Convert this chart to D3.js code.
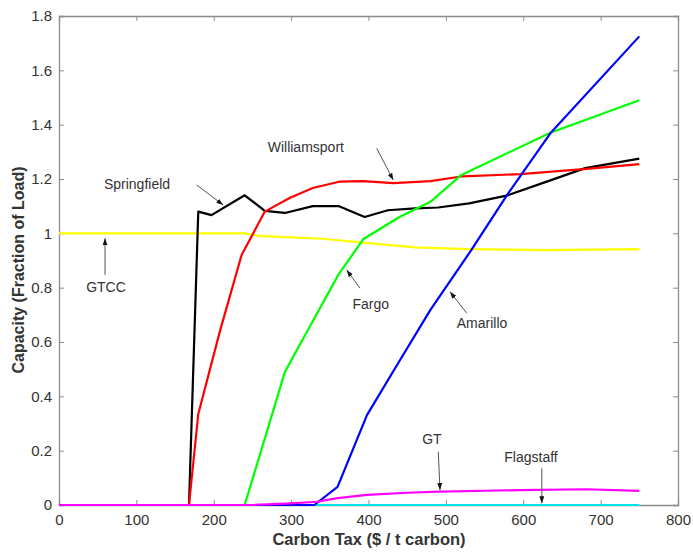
<!DOCTYPE html>
<html>
<head>
<meta charset="utf-8">
<script src="https://cdn.jsdelivr.net/npm/d3@7"></script>
<style>
  html, body { margin: 0; padding: 0; background: #fff; }
  svg { display: block; font-family: Arial, "Liberation Sans", sans-serif; }
</style>
</head>
<body>
<svg id="chart" width="693" height="552"></svg>
<script>
// ---- Data ----
const xTicks = [0, 100, 200, 300, 400, 500, 600, 700, 800];
const yTicks = [0, 0.2, 0.4, 0.6, 0.8, 1, 1.2, 1.4, 1.6, 1.8];

const flagstaffX = [0, 750];
const flagstaffY = [0, 0];

const gtccX = [0, 240, 260, 300, 340, 390, 460, 530, 630, 750];
const gtccY = [1, 1, 0.99, 0.985, 0.98, 0.967, 0.948, 0.942, 0.938, 0.942];

const springfieldX = [0, 168, 180, 197, 240, 266, 292, 328, 362, 395, 425, 460, 490, 530, 580, 635, 680, 750];
const springfieldY = [0, 0, 1.08, 1.067, 1.14, 1.083, 1.075, 1.1, 1.1, 1.06, 1.085, 1.092, 1.095, 1.11, 1.14, 1.195, 1.24, 1.275];

const williamsportX = [0, 168, 180, 208, 236, 250, 266, 298, 328, 362, 393, 432, 480, 522, 596, 682, 750];
const williamsportY = [0, 0, 0.335, 0.64, 0.92, 0.995, 1.08, 1.13, 1.167, 1.19, 1.192, 1.185, 1.192, 1.21, 1.218, 1.237, 1.255];

const fargoX = [0, 240, 292, 324, 361, 393, 440, 480, 520, 635, 750];
const fargoY = [0, 0, 0.49, 0.656, 0.847, 0.978, 1.06, 1.116, 1.215, 1.37, 1.49];

const amarilloX = [0, 330, 360, 398, 440, 480, 533, 579, 635, 750];
const amarilloY = [0, 0, 0.067, 0.331, 0.53, 0.718, 0.939, 1.141, 1.368, 1.725];

const gtX = [0, 250, 300, 333, 360, 398, 450, 492, 596, 682, 750];
const gtY = [0, 0, 0.006, 0.012, 0.025, 0.037, 0.045, 0.049, 0.055, 0.058, 0.052];

const seriesNames  = ["Flagstaff", "GTCC", "Springfield", "Williamsport", "Fargo", "Amarillo", "GT"];
const seriesColors = ["#00e5ee", "#ffff00", "#000000", "#ff0000", "#00ff00", "#0000ff", "#ff00ff"];
const seriesXs = [flagstaffX, gtccX, springfieldX, williamsportX, fargoX, amarilloX, gtX];
const seriesYs = [flagstaffY, gtccY, springfieldY, williamsportY, fargoY, amarilloY, gtY];

// annotation labels: text, text anchor (data), arrow start, arrow end (data)
const annLabels = ["Williamsport", "Springfield", "GTCC", "Fargo", "Amarillo", "GT", "Flagstaff"];
const annTextX  = [319, 100.8, 60.7, 403, 546.7, 482, 610];
const annTextY  = [1.314, 1.178, 0.799, 0.736, 0.666, 0.239, 0.172];
const annFromX  = [410.6, 178, 59.5, 389, 527, 490.2, 624];
const annFromY  = [1.313, 1.178, 0.847, 0.798, 0.706, 0.196, 0.135];
const annToX    = [432, 212.3, 59.5, 371.8, 505.3, 492.4, 624];
const annToY    = [1.196, 1.104, 0.982, 0.865, 0.785, 0.055, 0.006];

// ---- Layout ----
const W = 693, H = 552;
const margin = { left: 59, top: 16, right: 15, bottom: 47 };
const iw = W - margin.left - margin.right;
const ih = H - margin.top - margin.bottom;

const svg = d3.select("#chart");
const g = svg.append("g").attr("transform", `translate(${margin.left},${margin.top})`);

const x = d3.scaleLinear().domain([0, 800]).range([0, iw]);
const y = d3.scaleLinear().domain([0, 1.8]).range([ih, 0]);

const axisColor = "#8c8c8c";
const textColor = "#333";
const tickLen = 5;
const fmt = d => (d === 0 || d === 1) ? String(d) : d3.format(".1f")(d);

// axes (ticks inward, mirrored on top/right)
const bottomAxis = g.append("g").attr("transform", `translate(0,${ih})`)
  .call(d3.axisBottom(x).tickValues(xTicks).tickSize(-tickLen).tickPadding(9).tickFormat(d3.format("d")));
const topAxis = g.append("g")
  .call(d3.axisTop(x).tickValues(xTicks).tickSize(-tickLen).tickFormat(""));
const leftAxis = g.append("g")
  .call(d3.axisLeft(y).tickValues(yTicks).tickSize(-tickLen).tickPadding(7).tickFormat(fmt));
const rightAxis = g.append("g").attr("transform", `translate(${iw},0)`)
  .call(d3.axisRight(y).tickValues(yTicks).tickSize(-tickLen).tickFormat(""));

[bottomAxis, topAxis, leftAxis, rightAxis].forEach(a => {
  a.select(".domain").attr("stroke", axisColor).attr("stroke-width", 1.3);
  a.selectAll(".tick line").attr("stroke", axisColor).attr("stroke-width", 1);
  a.selectAll(".tick text").attr("fill", textColor).style("font-size", "15px").style("font-family", "Arial, 'Liberation Sans', sans-serif");
});

// data lines
const line = d3.line().x(d => x(d[0])).y(d => y(d[1]));
const lines = g.append("g").attr("fill", "none");
seriesNames.forEach((name, i) => {
  const pts = seriesXs[i].map((xv, j) => [xv, seriesYs[i][j]]);
  lines.append("path")
    .datum(pts)
    .attr("d", line)
    .attr("stroke", seriesColors[i])
    .attr("stroke-width", 2.2)
    .attr("stroke-linejoin", "round")
    .attr("class", "series-" + name);
});

// annotations
svg.append("defs").append("marker")
  .attr("id", "arrow").attr("viewBox", "0 0 10 10")
  .attr("refX", 10).attr("refY", 5)
  .attr("markerWidth", 7).attr("markerHeight", 7)
  .attr("markerUnits", "userSpaceOnUse")
  .attr("orient", "auto")
  .append("path").attr("d", "M0,1.5 L10,5 L0,8.5 Z").attr("fill", "#111");

const ann = g.append("g");
annLabels.forEach((lab, i) => {
  ann.append("line")
    .attr("x1", x(annFromX[i])).attr("y1", y(annFromY[i]))
    .attr("x2", x(annToX[i])).attr("y2", y(annToY[i]))
    .attr("stroke", "#555").attr("stroke-width", 1)
    .attr("marker-end", "url(#arrow)");
  ann.append("text")
    .attr("x", x(annTextX[i])).attr("y", y(annTextY[i]))
    .attr("text-anchor", "middle").attr("dominant-baseline", "middle")
    .attr("fill", textColor).style("font-size", "14px")
    .text(lab);
});

// axis titles
svg.append("text")
  .attr("x", 369).attr("y", 541)
  .attr("text-anchor", "middle").attr("dominant-baseline", "middle")
  .attr("fill", textColor).style("font-size", "16.5px").style("font-weight", "bold")
  .text("Carbon Tax ($ / t carbon)");
svg.append("text")
  .attr("transform", `translate(20,270) rotate(-90)`)
  .attr("text-anchor", "middle").attr("dominant-baseline", "middle")
  .attr("fill", textColor).style("font-size", "16px").style("font-weight", "bold")
  .text("Capacity (Fraction of Load)");
</script>
</body>
</html>
